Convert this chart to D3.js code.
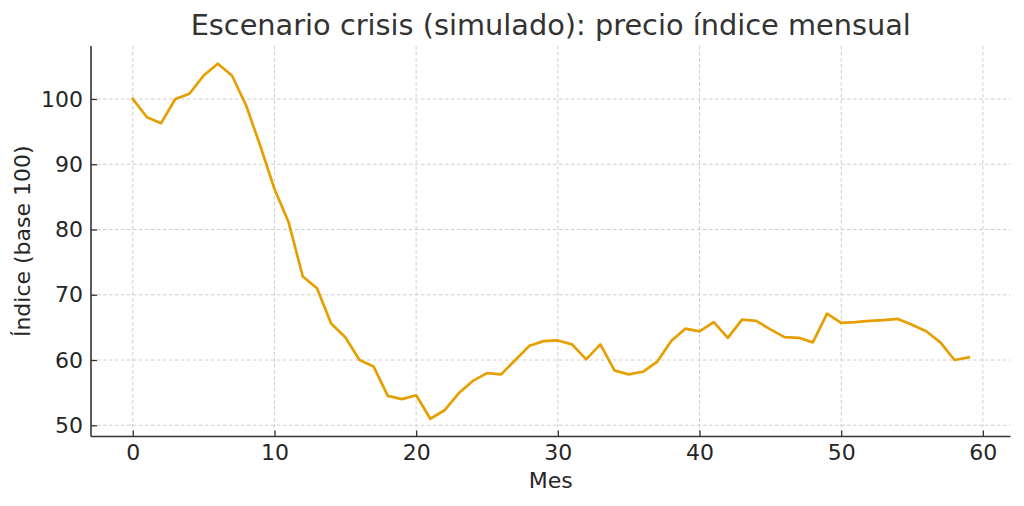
<!DOCTYPE html>
<html><head><meta charset="utf-8">
<script src="https://cdn.jsdelivr.net/npm/d3@7"></script>
<style>
body{margin:0;background:#fff;}
text{font-family:"DejaVu Sans",sans-serif;}
</style></head>
<body><svg id="c" width="1024" height="506"></svg>
<script>
const months = d3.range(0, 60);
const indexValues = [100.0, 97.2, 96.3, 100.0, 100.8, 103.6, 105.4, 103.6, 99.0, 92.8,
  86.2, 81.1, 72.8, 71.0, 65.6, 63.5, 60.0, 59.0, 54.5, 54.0,
  54.6, 51.0, 52.3, 54.9, 56.8, 58.0, 57.8, 60.0, 62.2, 62.9,
  63.0, 62.4, 60.1, 62.4, 58.4, 57.8, 58.2, 59.7, 62.9, 64.8,
  64.4, 65.8, 63.4, 66.2, 66.0, 64.7, 63.5, 63.4, 62.7, 67.1,
  65.7, 65.8, 66.0, 66.1, 66.3, 65.4, 64.4, 62.7, 60.0, 60.4];
const xTicks = [0, 10, 20, 30, 40, 50, 60];
const yTicks = [50, 60, 70, 80, 90, 100];
const title = "Escenario crisis (simulado): precio índice mensual";
const xLabel = "Mes";
const yLabel = "Índice (base 100)";

const svg = d3.select("#c");
const L = 91, R = 1010.5, T = 46, B = 436.5;
const x = d3.scaleLinear().domain([-2.95, 61.95]).range([L, R]);
const y = d3.scaleLinear().domain([48.28, 108.12]).range([B, T]);

// grid
const g = svg.append("g");
g.selectAll(".gx").data(xTicks).enter().append("line")
  .attr("x1", d => x(d)).attr("x2", d => x(d)).attr("y1", T).attr("y2", B)
  .attr("stroke", "#c8c8c8").attr("stroke-width", 0.9).attr("stroke-dasharray", "3.5,2.5");
g.selectAll(".gy").data(yTicks).enter().append("line")
  .attr("y1", d => y(d)).attr("y2", d => y(d)).attr("x1", L).attr("x2", R)
  .attr("stroke", "#c8c8c8").attr("stroke-width", 0.9).attr("stroke-dasharray", "3.5,2.5");

// line
const line = d3.line().x((d, i) => x(months[i])).y(d => y(d));
svg.append("path").datum(indexValues).attr("d", line)
  .attr("fill", "none").attr("stroke", "#E69F00").attr("stroke-width", 2.7)
  .attr("stroke-linejoin", "round").attr("stroke-linecap", "square");

// axes (ticks pointing inward)
const xAxis = d3.axisBottom(x).tickValues(xTicks).tickSizeInner(-6).tickSizeOuter(0).tickPadding(8);
const yAxis = d3.axisLeft(y).tickValues(yTicks).tickSizeInner(-6).tickSizeOuter(0).tickPadding(8);
const gx = svg.append("g").attr("transform", `translate(0,${B})`).call(xAxis);
const gy = svg.append("g").attr("transform", `translate(${L},0)`).call(yAxis);
gx.select(".domain").attr("d", `M${L},0H${R}`);
gy.select(".domain").attr("d", `M0,${B}V${T}`);
[gx, gy].forEach(a => {
  a.select(".domain").attr("stroke", "#333").attr("stroke-width", 1.6);
  a.selectAll(".tick line").attr("stroke", "#333").attr("stroke-width", 1.3);
  a.selectAll(".tick text").attr("fill", "#262626").style("font-size", "22px")
    .style("font-family", "DejaVu Sans");
});

svg.append("text").attr("x", (L + R) / 2).attr("y", 35).attr("text-anchor", "middle")
  .attr("fill", "#333").style("font-size", "28.8px").text(title);
svg.append("text").attr("x", (L + R) / 2).attr("y", 488).attr("text-anchor", "middle")
  .attr("fill", "#262626").style("font-size", "22px").text(xLabel);
svg.append("text").attr("transform", `translate(30,${(T + B) / 2}) rotate(-90)`)
  .attr("text-anchor", "middle").attr("fill", "#262626").style("font-size", "22px").text(yLabel);
</script></body></html>
